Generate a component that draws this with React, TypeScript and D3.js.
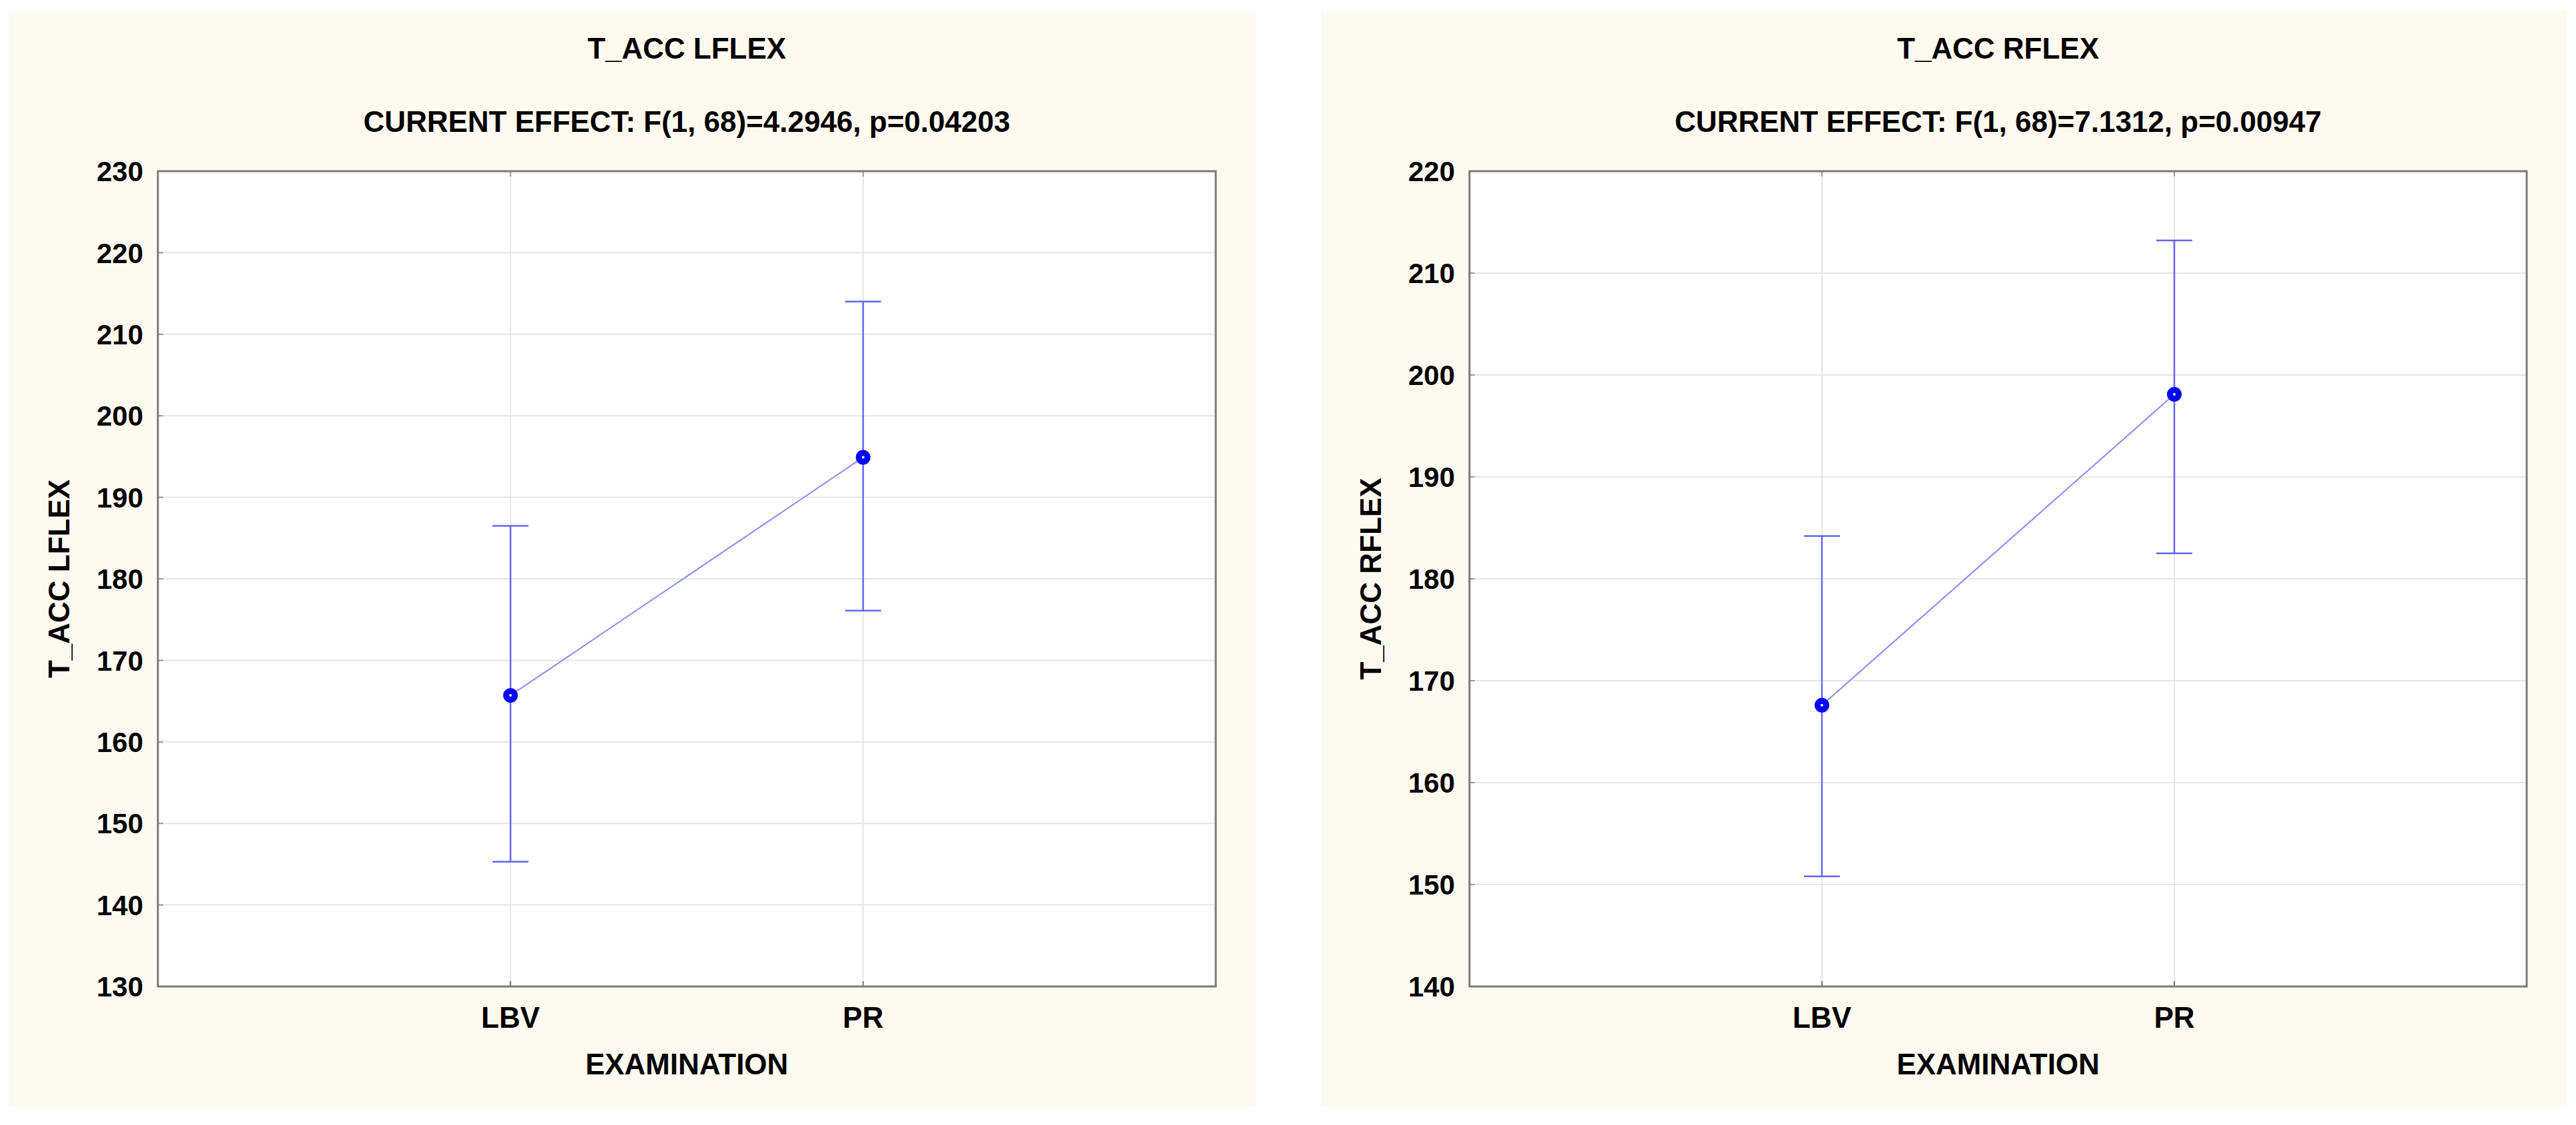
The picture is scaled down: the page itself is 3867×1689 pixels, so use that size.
import React from "react";
import * as d3 from "d3";

const categories = ["LBV", "PR"];

const leftTitle = "T_ACC LFLEX";
const leftSubtitle = "CURRENT EFFECT: F(1, 68)=4.2946, p=0.04203";
const leftTicks = [130, 140, 150, 160, 170, 180, 190, 200, 210, 220, 230];
const leftMeans = [165.7, 194.9];
const leftLower = [145.3, 176.1];
const leftUpper = [186.5, 214.0];

const rightTitle = "T_ACC RFLEX";
const rightSubtitle = "CURRENT EFFECT: F(1, 68)=7.1312, p=0.00947";
const rightTicks = [140, 150, 160, 170, 180, 190, 200, 210, 220];
const rightMeans = [167.6, 198.1];
const rightLower = [150.8, 182.5];
const rightUpper = [184.2, 213.2];

const xAxisLabel = "EXAMINATION";

const FONT = "'Liberation Sans', Arial, Helvetica, sans-serif";
const BG = "#fefaf0";
const ERR = "#6464ff";
const LINE = "#8888ff";
const MARK = "#0000ff";

type PanelProps = {
  bx: number; bw: number; px: number; pw: number;
  title: string; subtitle: string; yLabel: string;
  ticks: number[]; means: number[]; lower: number[]; upper: number[];
};

function Panel(p: PanelProps) {
  const top = 257, bottom = 1481;
  const x = d3.scaleLinear().domain([0, categories.length + 1]).range([p.px, p.px + p.pw]);
  const y = d3.scaleLinear().domain([d3.min(p.ticks)!, d3.max(p.ticks)!]).range([bottom, top]);
  const cx = p.px + p.pw / 2;
  const line = d3.line<number>().x((_, i) => x(i + 1)).y((d) => y(d));
  const cap = 27;
  return (
    <g>
      <rect x={p.bx} y={15} width={p.bw} height={1647} fill={BG} />
      <text x={cx} y={88} textAnchor="middle" fontFamily={FONT} fontWeight="bold" fontSize={44}>{p.title}</text>
      <text x={cx} y={198} textAnchor="middle" fontFamily={FONT} fontWeight="bold" fontSize={44}>{p.subtitle}</text>
      <rect x={p.px} y={top} width={p.pw} height={bottom - top} fill="#ffffff" />
      {p.ticks.map((t) => (
        <line key={"g" + t} x1={p.px} x2={p.px + p.pw} y1={y(t)} y2={y(t)} stroke="#e6e6e6" strokeWidth={2} />
      ))}
      {categories.map((c, i) => (
        <line key={"v" + c} x1={x(i + 1)} x2={x(i + 1)} y1={top} y2={bottom} stroke="#e6e6e6" strokeWidth={2} />
      ))}
      {p.ticks.map((t) => (
        <line key={"t" + t} x1={p.px} x2={p.px + 8} y1={y(t)} y2={y(t)} stroke="#9a9a9a" strokeWidth={2} />
      ))}
      {categories.map((c, i) => (
        <g key={"xt" + c}>
          <line x1={x(i + 1)} x2={x(i + 1)} y1={bottom} y2={bottom - 8} stroke="#777" strokeWidth={2} />
          <line x1={x(i + 1)} x2={x(i + 1)} y1={top} y2={top + 8} stroke="#999" strokeWidth={2} />
        </g>
      ))}
      <rect x={p.px} y={top} width={p.pw} height={bottom - top} fill="none" stroke="#7a7a7a" strokeWidth={3} />
      {p.ticks.map((t) => (
        <text key={"l" + t} x={p.px - 22} y={y(t)} dy="0.36em" textAnchor="end" fontFamily={FONT} fontWeight="bold" fontSize={42}>{t}</text>
      ))}
      {categories.map((c, i) => (
        <text key={"xl" + c} x={x(i + 1)} y={1543} textAnchor="middle" fontFamily={FONT} fontWeight="bold" fontSize={44}>{c}</text>
      ))}
      <text x={cx} y={1613} textAnchor="middle" fontFamily={FONT} fontWeight="bold" fontSize={44}>{xAxisLabel}</text>
      <text transform={`translate(${p.px - 133},${(top + bottom) / 2}) rotate(-90)`} textAnchor="middle" fontFamily={FONT} fontWeight="bold" fontSize={44}>{p.yLabel}</text>
      {categories.map((c, i) => (
        <g key={"e" + c} stroke={ERR} strokeWidth={2.5}>
          <line x1={x(i + 1)} x2={x(i + 1)} y1={y(p.lower[i])} y2={y(p.upper[i])} />
          <line x1={x(i + 1) - cap} x2={x(i + 1) + cap} y1={y(p.lower[i])} y2={y(p.lower[i])} />
          <line x1={x(i + 1) - cap} x2={x(i + 1) + cap} y1={y(p.upper[i])} y2={y(p.upper[i])} />
        </g>
      ))}
      <path d={line(p.means) || ""} fill="none" stroke={LINE} strokeWidth={2} />
      {categories.map((c, i) => (
        <circle key={"m" + c} cx={x(i + 1)} cy={y(p.means[i])} r={6.5} fill="#ffffff" stroke={MARK} strokeWidth={9} />
      ))}
    </g>
  );
}

export default function App() {
  return (
    <svg width={3867} height={1689} style={{ position: "absolute", left: 0, top: 0, display: "block" }}>
      <rect x={0} y={0} width={3867} height={1689} fill="#ffffff" />
      <Panel bx={13} bw={1872} px={237} pw={1588} title={leftTitle} subtitle={leftSubtitle} yLabel={leftTitle}
        ticks={leftTicks} means={leftMeans} lower={leftLower} upper={leftUpper} />
      <Panel bx={1983} bw={1870} px={2206} pw={1587} title={rightTitle} subtitle={rightSubtitle} yLabel={rightTitle}
        ticks={rightTicks} means={rightMeans} lower={rightLower} upper={rightUpper} />
    </svg>
  );
}
